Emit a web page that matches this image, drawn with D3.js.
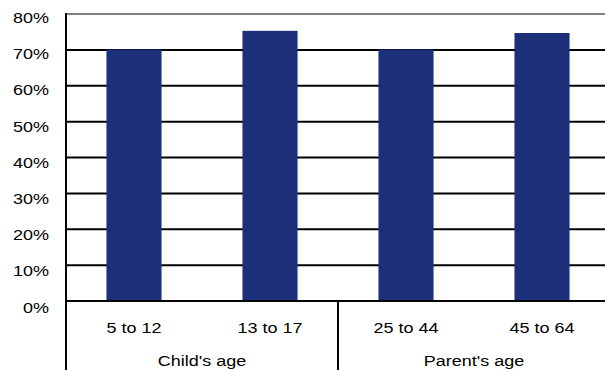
<!DOCTYPE html>
<html><head><meta charset="utf-8">
<script src="https://cdn.jsdelivr.net/npm/d3@7"></script>
<style>body{margin:0;background:#fff}svg{display:block}text{font-family:"Liberation Sans",Arial,sans-serif;fill:#000}</style>
</head><body><svg id="c" width="605" height="370"></svg>
<script>
const categories = ["5 to 12","13 to 17","25 to 44","45 to 64"];
const groups = ["Child's age","Child's age","Parent's age","Parent's age"];
const groupLabels = ["Child's age","Parent's age"];
const values = [0.701, 0.753, 0.701, 0.747];
const yTicks = [0,0.1,0.2,0.3,0.4,0.5,0.6,0.7,0.8];

const svg = d3.select("#c");
const mLeft = 66, mRight = 610, mTop = 14, mBottom = 301;
const FS = 15.5, STRETCH = 1.16;
const x = d3.scaleBand().domain(categories).range([mLeft,mRight]).paddingInner(0.595).paddingOuter(0.2975);
const xb = d3.scaleBand().domain(categories).range([mLeft,mRight]);
const y = d3.scaleLinear().domain([0,0.8]).range([mBottom,mTop]);

function stretch(sel){
  sel.each(function(){
    const L = this.getComputedTextLength();
    d3.select(this).attr("textLength",L*STRETCH).attr("lengthAdjust","spacingAndGlyphs");
  });
}

// gridlines
svg.append("g").selectAll("line").data(yTicks.filter(d=>d>0&&d<0.8)).join("line")
  .attr("x1",mLeft).attr("x2",605).attr("y1",d=>y(d)).attr("y2",d=>y(d))
  .attr("stroke","#000").attr("stroke-width",2);
svg.append("line").attr("x1",mLeft).attr("x2",605).attr("y1",y(0.8)).attr("y2",y(0.8))
  .attr("stroke","#808080").attr("stroke-width",2);

// bars
svg.append("g").selectAll("rect").data(values).join("rect")
  .attr("x",(d,i)=>x(categories[i])).attr("width",x.bandwidth())
  .attr("y",d=>y(d)).attr("height",d=>y(0)-y(d)).attr("fill","#1B3078");

// baseline
svg.append("line").attr("x1",mLeft).attr("x2",605).attr("y1",y(0)).attr("y2",y(0))
  .attr("stroke","#000").attr("stroke-width",2);

// y axis
const ya = d3.axisLeft(y).tickValues(yTicks).tickFormat(d3.format(".0%")).tickSize(0).tickPadding(17);
const yg = svg.append("g").attr("transform",`translate(${mLeft},0)`).call(ya);
yg.select(".domain").remove();
yg.selectAll("text").attr("font-size",FS).attr("font-family","Liberation Sans, Arial, sans-serif")
  .attr("dy",null).attr("y",(d)=>8.5 + (1-d/0.8)*2.5).call(stretch);
svg.append("line").attr("x1",mLeft).attr("x2",mLeft).attr("y1",mTop-1).attr("y2",370)
  .attr("stroke","#000").attr("stroke-width",2);

// category labels
const xa = d3.axisBottom(xb).tickSize(0).tickPadding(0);
const xg = svg.append("g").attr("transform",`translate(0,${mBottom})`).call(xa);
xg.select(".domain").remove();
xg.selectAll("text").attr("font-size",FS).attr("font-family","Liberation Sans, Arial, sans-serif")
  .attr("dy",null).attr("y",32).call(stretch);

// group labels and divider
groupLabels.forEach(g=>{
  const cats = categories.filter((c,i)=>groups[i]===g);
  const x0 = xb(cats[0]), x1 = xb(cats[cats.length-1])+xb.bandwidth();
  svg.append("text").attr("x",(x0+x1)/2).attr("y",366).attr("text-anchor","middle")
    .attr("font-size",FS).text(g).call(stretch);
});
const divX = xb(categories[2]);
svg.append("line").attr("x1",divX).attr("x2",divX).attr("y1",mBottom).attr("y2",370)
  .attr("stroke","#000").attr("stroke-width",2);
</script></body></html>
